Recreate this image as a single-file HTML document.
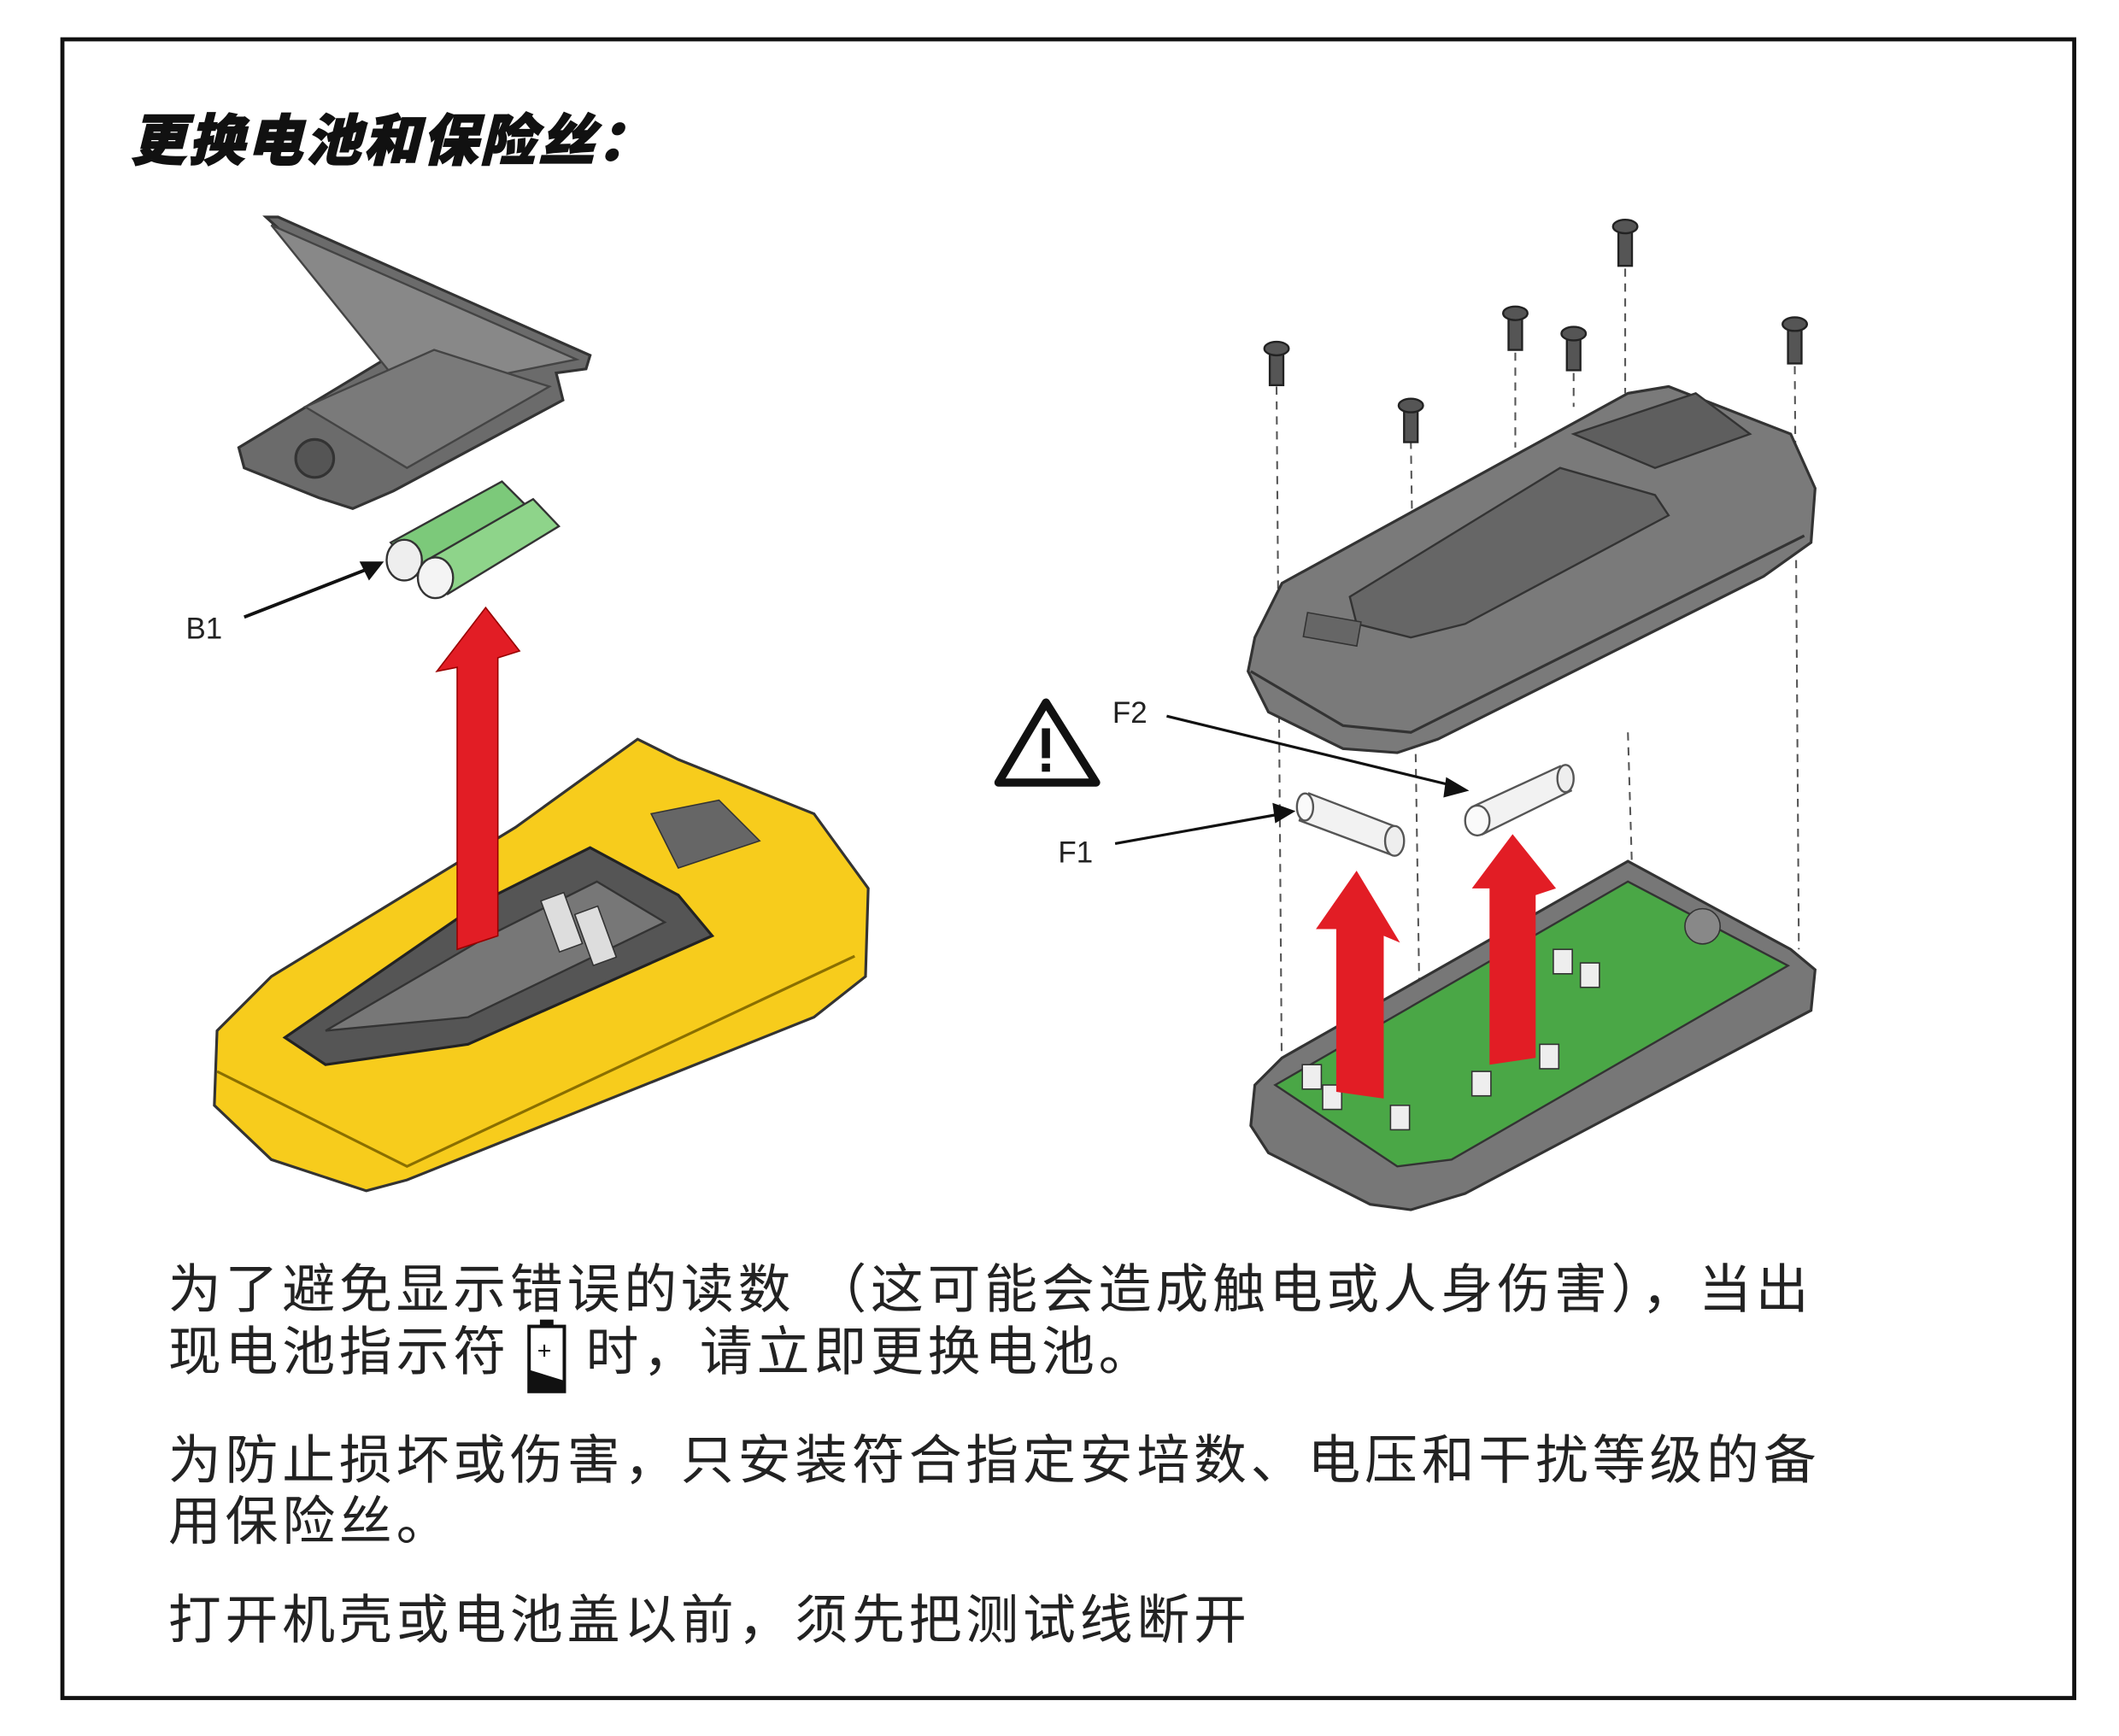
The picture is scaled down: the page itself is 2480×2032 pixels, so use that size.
<!DOCTYPE html>
<html><head><meta charset="utf-8"><style>
html,body{margin:0;padding:0;background:#fff}
svg{display:block}
text{font-family:"Liberation Sans","Noto Sans CJK SC",sans-serif}
</style></head><body>
<svg width="2480" height="2032" viewBox="0 0 1562 1280" preserveAspectRatio="none" xmlns="http://www.w3.org/2000/svg">
<rect x="0" y="0" width="1562" height="1280" fill="#fff"/>
<rect x="46" y="29" width="1483" height="1223" fill="none" stroke="#111" stroke-width="3"/>
<text x="96" y="118" font-size="41" font-weight="900" font-style="italic" letter-spacing="2" fill="#111" stroke="#111" stroke-width="1">更换电池和保险丝：</text>

<!-- left: battery cover -->
<path d="M196,160 L205,160 L435,262 L432,272 L410,275 L415,295 L290,362 L260,375 L235,367 L180,345 L176,330 L300,255 Z" fill="#6b6b6b" stroke="#333" stroke-width="2"/>
<path d="M200,166 L425,265 L300,290 Z" fill="#888" stroke="#444" stroke-width="1.5"/>
<path d="M225,300 L320,258 L405,285 L300,345 Z" fill="#7a7a7a" stroke="#444" stroke-width="1.5"/>
<circle cx="232" cy="338" r="14" fill="#555" stroke="#333" stroke-width="2"/>
<!-- batteries -->
<g stroke="#333" stroke-width="1.5">
<path d="M288,400 L370,355 L390,375 L308,425 Z" fill="#7cc97a"/>
<ellipse cx="298" cy="413" rx="13" ry="15" fill="#eee"/>
<path d="M313,414 L393,368 L412,388 L330,438 Z" fill="#8ed48a"/>
<ellipse cx="321" cy="426" rx="13" ry="15" fill="#f4f4f4"/>
</g>
<text x="137" y="471" font-size="22" fill="#222">B1</text>
<line x1="180" y1="455" x2="275" y2="418" stroke="#111" stroke-width="2.5"/>
<polygon points="283,414 265,414 272,428" fill="#111"/>
<!-- yellow case -->
<path d="M160,760 L200,720 L380,610 L470,545 L500,560 L600,600 L640,655 L638,720 L600,750 L300,870 L270,878 L200,855 L158,815 Z" fill="#f7cc1c" stroke="#333" stroke-width="2"/>
<path d="M160,790 L300,860 L630,705" fill="none" stroke="#8a6f00" stroke-width="2"/>
<path d="M210,765 L355,665 L435,625 L500,660 L525,690 L345,770 L240,785 Z" fill="#555" stroke="#222" stroke-width="2"/>
<path d="M240,760 L360,690 L440,650 L490,680 L345,750 Z" fill="#777" stroke="#333" stroke-width="1.5"/>
<rect x="405" y="660" width="18" height="40" fill="#ddd" stroke="#333" transform="rotate(-20 414 680)"/>
<rect x="430" y="670" width="18" height="40" fill="#ddd" stroke="#333" transform="rotate(-20 439 690)"/>
<path d="M480,600 L530,590 L560,620 L500,640 Z" fill="#666" stroke="#333"/>
<!-- red arrow left -->
<polygon points="337,700 367,690 367,485 383,480 358,448 322,495 337,492" fill="#e21d25" stroke="#900" stroke-width="1"/>

<!-- right: dashed lines -->
<g stroke="#555" stroke-width="1.3" stroke-dasharray="6,5">
<line x1="941" y1="285" x2="945" y2="810"/>
<line x1="1040" y1="325" x2="1047" y2="780"/>
<line x1="1117" y1="260" x2="1117" y2="330"/>
<line x1="1160" y1="275" x2="1160" y2="300"/>
<line x1="1198" y1="198" x2="1198" y2="290"/>
<line x1="1200" y1="540" x2="1203" y2="640"/>
<line x1="1323" y1="270" x2="1326" y2="700"/>
</g>
<!-- screws -->
<g fill="#555" stroke="#222" stroke-width="1.5">
<rect x="936" y="258" width="10" height="26"/><ellipse cx="941" cy="257" rx="9" ry="5"/>
<rect x="1035" y="300" width="10" height="26"/><ellipse cx="1040" cy="299" rx="9" ry="5"/>
<rect x="1112" y="232" width="10" height="26"/><ellipse cx="1117" cy="231" rx="9" ry="5"/>
<rect x="1155" y="247" width="10" height="26"/><ellipse cx="1160" cy="246" rx="9" ry="5"/>
<rect x="1193" y="168" width="10" height="28"/><ellipse cx="1198" cy="167" rx="9" ry="5"/>
<rect x="1318" y="240" width="10" height="28"/><ellipse cx="1323" cy="239" rx="9" ry="5"/>
</g>
<!-- top case -->
<path d="M925,470 L945,430 L1200,290 L1230,285 L1320,320 L1338,360 L1335,400 L1300,425 L1060,545 L1030,555 L990,552 L935,525 L920,495 Z" fill="#7a7a7a" stroke="#333" stroke-width="2"/>
<path d="M922,495 L990,535 L1040,540 L1330,395" fill="none" stroke="#333" stroke-width="2"/>
<path d="M995,440 L1150,345 L1220,365 L1230,380 L1080,460 L1040,470 L1000,460 Z" fill="#666" stroke="#333" stroke-width="1.5"/>
<path d="M1160,320 L1250,290 L1290,320 L1220,345 Z" fill="#5e5e5e" stroke="#333" stroke-width="1.5"/>
<rect x="962" y="455" width="40" height="18" fill="#666" stroke="#333" transform="rotate(10 982 464)"/>
<!-- bottom case -->
<path d="M925,800 L945,780 L1200,635 L1320,700 L1338,715 L1335,745 L1080,880 L1040,892 L1010,888 L935,850 L922,830 Z" fill="#777" stroke="#333" stroke-width="2"/>
<path d="M940,800 L1200,650 L1318,712 L1070,855 L1030,860 Z" fill="#4aa746" stroke="#333" stroke-width="1.5"/>
<circle cx="1255" cy="683" r="13" fill="#888" stroke="#333"/>
<g fill="#eee" stroke="#333" stroke-width="1">
<rect x="960" y="785" width="14" height="18"/><rect x="975" y="800" width="14" height="18"/>
<rect x="1025" y="815" width="14" height="18"/><rect x="1085" y="790" width="14" height="18"/>
<rect x="1135" y="770" width="14" height="18"/><rect x="1145" y="700" width="14" height="18"/>
<rect x="1165" y="710" width="14" height="18"/>
</g>
<!-- fuses -->
<g stroke="#555" stroke-width="1.5">
<path d="M965,585 L1030,610 L1025,630 L958,605 Z" fill="#f2f2f2"/>
<ellipse cx="962" cy="595" rx="6" ry="10" fill="#fafafa"/>
<ellipse cx="1028" cy="620" rx="7" ry="11" fill="#eee"/>
<path d="M1085,595 L1150,565 L1158,583 L1093,615 Z" fill="#f2f2f2"/>
<ellipse cx="1089" cy="605" rx="9" ry="11" fill="#fafafa"/>
<ellipse cx="1154" cy="574" rx="6" ry="10" fill="#eee"/>
</g>
<!-- red arrows right -->
<polygon points="985,805 1020,810 1020,690 1032,695 1000,642 970,685 985,685" fill="#e21d25"/>
<polygon points="1098,785 1132,780 1132,660 1147,655 1115,615 1085,655 1098,655" fill="#e21d25"/>
<!-- warning -->
<polygon points="771,518 808,577 736,577" fill="#fff" stroke="#111" stroke-width="6" stroke-linejoin="round"/>
<rect x="768" y="537" width="6" height="22" fill="#111"/><rect x="768" y="563" width="6" height="6" fill="#111"/>
<text x="820" y="533" font-size="22" fill="#222">F2</text>
<line x1="860" y1="528" x2="1074" y2="580" stroke="#111" stroke-width="2"/>
<polygon points="1083,583 1066,573 1064,588" fill="#111"/>
<text x="780" y="636" font-size="22" fill="#222">F1</text>
<line x1="822" y1="622" x2="945" y2="600" stroke="#111" stroke-width="2"/>
<polygon points="955,598 938,592 940,607" fill="#111"/>

<!-- body text -->
<g font-size="39" fill="#222" letter-spacing="3">
<text x="124" y="964">为了避免显示错误的读数 （这可能会造成触电或人身伤害），当出</text>
<text x="124" y="1010">现电池指示符 <tspan fill="#fff">口</tspan>时，请立即更换电池。</text>
<text x="124" y="1090">为防止损坏或伤害，只安装符合指定安培数、电压和干扰等级的备</text>
<text x="124" y="1135">用保险丝。</text>
<text x="124" y="1208">打开机壳或电池盖以前，须先把测试线断开</text>
</g>
<!-- battery icon -->
<rect x="390" y="978" width="26" height="48" fill="#fff" stroke="#111" stroke-width="2.5"/>
<rect x="398" y="973" width="10" height="5" fill="#111"/>
<polygon points="390,1010 416,1018 416,1026 390,1026" fill="#111"/>
<text x="396" y="1002" font-size="18" fill="#111">+</text>
</svg>
</body></html>
